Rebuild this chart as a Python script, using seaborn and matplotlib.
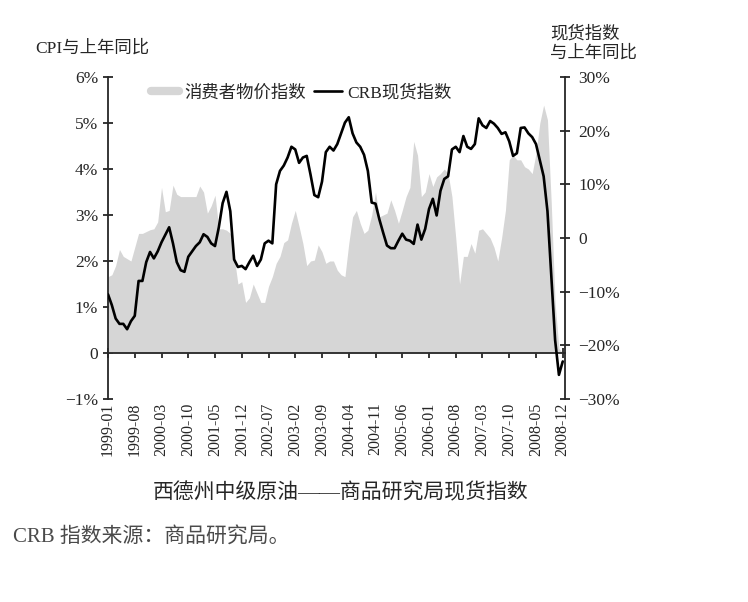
import numpy as np
import pandas as pd
import matplotlib
matplotlib.use("Agg")
import matplotlib.pyplot as plt
from matplotlib.lines import Line2D
import seaborn as sns

# monthly values, 1999-01 .. 2008-12
cpi_yoy = [
    1.66, 1.70, 1.90, 2.25, 2.10, 2.05, 2.00, 2.30, 2.60, 2.60, 2.64, 2.68,
    2.70, 2.85, 3.60, 3.07, 3.10, 3.65, 3.45, 3.40, 3.40, 3.40, 3.40, 3.40,
    3.63, 3.50, 3.04, 3.20, 3.43, 2.70, 2.70, 2.67, 2.60, 2.10, 1.50, 1.55,
    1.10, 1.20, 1.50, 1.30, 1.10, 1.10, 1.45, 1.66, 1.95, 2.10, 2.40, 2.46,
    2.82, 3.10, 2.75, 2.38, 1.90, 2.00, 2.02, 2.35, 2.20, 1.95, 2.00, 2.00,
    1.80, 1.70, 1.66, 2.38, 2.96, 3.10, 2.82, 2.60, 2.67, 3.00, 3.50, 2.96,
    3.00, 3.04, 3.33, 3.10, 2.82, 3.10, 3.40, 3.60, 4.60, 4.30, 3.40, 3.50,
    3.90, 3.62, 3.83, 3.90, 4.00, 3.90, 3.40, 2.50, 1.50, 2.10, 2.10, 2.38,
    2.17, 2.67, 2.70, 2.60, 2.50, 2.30, 2.00, 2.50, 3.10, 4.20, 4.30, 4.20,
    4.20, 4.05, 4.00, 3.90, 4.34, 5.00, 5.39, 5.07, 3.25, 1.08, 0.10, 0.00,
]
crb_yoy = [
    -10.5, -12.5, -15.0, -16.0, -16.0, -17.0, -15.5, -14.5, -8.0, -8.0, -4.5, -2.6,
    -3.8, -2.5, -0.8, 0.6, 2.0, -1.0, -4.5, -6.0, -6.3, -3.5, -2.5, -1.5,
    -0.8, 0.7, 0.2, -1.0, -1.5, 2.0, 6.5, 8.6, 5.0, -4.0, -5.4, -5.2,
    -5.8, -4.5, -3.3, -5.2, -4.0, -1.0, -0.5, -1.0, 10.0, 12.5, 13.5, 15.0,
    17.0, 16.5, 14.0, 15.0, 15.3, 11.8, 8.0, 7.6, 10.5, 16.0, 17.0, 16.3,
    17.5, 19.5, 21.5, 22.5, 19.5, 17.8, 17.0, 15.5, 12.5, 6.6, 6.4, 3.5,
    1.0, -1.4, -1.9, -1.9, -0.5, 0.8, -0.3, -0.5, -1.1, 2.5, -0.3, 1.7,
    5.4, 7.3, 4.2, 8.8, 11.0, 11.5, 16.5, 17.0, 16.0, 19.0, 17.0, 16.6,
    17.5, 22.3, 21.0, 20.5, 21.8, 21.3, 20.5, 19.4, 19.7, 18.0, 15.3, 15.8,
    20.5, 20.6, 19.5, 18.8, 17.5, 14.5, 11.5, 5.0, -7.0, -19.0, -25.5, -23.0,
]
tick_labels = ["1999-01", "1999-08", "2000-03", "2000-10", "2001-05", "2001-12",
               "2002-07", "2003-02", "2003-09", "2004-04", "2004-11", "2005-06",
               "2006-01", "2006-08", "2007-03", "2007-10", "2008-05", "2008-12"]
left_ticks = [-1, 0, 1, 2, 3, 4, 5, 6]
left_labels = ["−1%", "0", "1%", "2%", "3%", "4%", "5%", "6%"]
right_ticks = [-30, -20, -10, 0, 10, 20, 30]
right_labels = ["−30%", "−20%", "−10%", "0", "10%", "20%", "30%"]

months = pd.period_range("1999-01", "2008-12", freq="M").strftime("%Y-%m")
df = pd.DataFrame({"month": months, "cpi": cpi_yoy, "crb": crb_yoy})
df["pos"] = np.arange(len(df))
tick_pos = [df.index[df["month"] == t][0] for t in tick_labels]

sns.set_style("ticks")
plt.rcParams["font.family"] = ["Liberation Serif", "Noto Sans CJK SC", "DejaVu Sans"]

fig = plt.figure(figsize=(7.48, 6.02), dpi=100)
ax = fig.add_axes([0.1444, 0.3372, 0.611, 0.5349])

area_color = "#d6d6d6"
ax.fill_between(df["pos"], 0, df["cpi"], color=area_color, linewidth=0)

ax2 = ax.twinx()
sns.lineplot(data=df, x="pos", y="crb", ax=ax2, color="black", linewidth=1.9)

# left axis (CPI)
ax.set_xlim(0, 119.6)
ax.set_ylim(-1, 6)
ax.set_yticks(left_ticks)
ax.set_yticklabels(left_labels)
ax.set_xticks(tick_pos)
ax.set_xticklabels(tick_labels)
ax.spines["top"].set_visible(False)
ax.spines["right"].set_visible(False)
ax.spines["bottom"].set_position(("data", 0))
for s in ["left", "bottom"]:
    ax.spines[s].set_linewidth(1.3)
ax.tick_params(axis="y", direction="inout", length=7, width=1.3, pad=3.5,
               labelsize=12.5)
ax.tick_params(axis="x", direction="inout", length=7, width=1.3, pad=32,
               labelsize=11.5, labelrotation=90)
ax.set_xlabel("")
ax.set_ylabel("")

# right axis (CRB)
ax2.set_ylim(-30, 30)
ax2.set_yticks(right_ticks)
ax2.set_yticklabels(right_labels)
for s in ["top", "bottom", "left"]:
    ax2.spines[s].set_visible(False)
ax2.spines["right"].set_linewidth(1.3)
ax2.tick_params(axis="y", direction="inout", length=7, width=1.3, pad=6,
                labelsize=12.5)
ax2.set_ylabel("")
ax2.set_xlabel("")

handles = [Line2D([], [], color=area_color, linewidth=6),
           Line2D([], [], color="black", linewidth=1.9)]
ax.legend(handles, ["消费者物价指数", "CRB现货指数"], loc="center left",
          bbox_to_anchor=(0.06, 0.95), frameon=False, ncol=2,
          fontsize=12.5, handlelength=1.6, handletextpad=0.3,
          columnspacing=0.5)

fig.text(0.047, 0.920, "CPI与上年同比", fontsize=12.5, va="center", ha="left")
fig.text(0.735, 0.928, "现货指数\n与上年同比", fontsize=12.5, va="center",
         ha="left", linespacing=1.2)
fig.text(0.455, 0.180, "西德州中级原油——商品研究局现货指数", fontsize=15,
         ha="center", va="center")
fig.text(0.017, 0.108, "CRB 指数来源：商品研究局。", fontsize=15, ha="left",
         va="center", color="#4a4a4a")

fig.savefig("out.png", dpi=100)
